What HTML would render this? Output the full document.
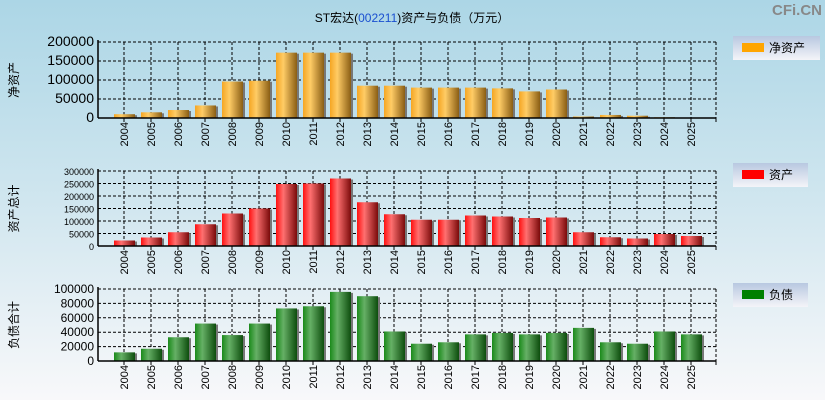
<!DOCTYPE html>
<html><head><meta charset="utf-8"><style>
body{margin:0;width:825px;height:400px;overflow:hidden;background:linear-gradient(#acd6e6,#d0e6ef 50%,#f8f8fa);font-family:"Liberation Sans","Noto Sans CJK SC",sans-serif}
svg{position:absolute;left:0;top:0}
</style></head><body>
<svg id="c" width="825" height="400">
<defs>
<linearGradient id="gO" x1="0" x2="1"><stop offset="0" stop-color="#f5a623"/><stop offset="0.35" stop-color="#ffcc66"/><stop offset="1" stop-color="#8a5e14"/></linearGradient>
<linearGradient id="gR" x1="0" x2="1"><stop offset="0" stop-color="#ff1010"/><stop offset="0.35" stop-color="#ff7070"/><stop offset="1" stop-color="#7a0a0a"/></linearGradient>
<linearGradient id="gG" x1="0" x2="1"><stop offset="0" stop-color="#1a8a1a"/><stop offset="0.35" stop-color="#66b066"/><stop offset="1" stop-color="#0d4d0d"/></linearGradient>
<linearGradient id="lg" x1="0" y1="0" x2="0" y2="1"><stop offset="0" stop-color="#b8c8e0"/><stop offset="1" stop-color="#f4f4f8"/></linearGradient>
</defs>
<text x="412" y="22" font-size="12" text-anchor="middle">ST宏达(<tspan fill="#1a4fd0">002211</tspan>)资产与负债（万元）</text>
<text x="822" y="15" font-size="15" font-weight="bold" fill="#888" text-anchor="end">CFi.CN</text>
</svg>
<script>
const years=["2004","2005","2006","2007","2008","2009","2010","2011","2012","2013","2014","2015","2016","2017","2018","2019","2020","2021","2022","2023","2024","2025"];
const netAssets=[10000,15000,21000,33000,96000,98000,172000,172000,172000,85000,85000,80000,80000,80000,78000,70000,75000,4000,8000,6000,2000,1000];
const totalAssets=[22000,34000,55000,87000,130000,150000,248000,250000,270000,175000,127000,105000,105000,122000,118000,112000,114000,55000,35000,30000,48000,40000];
const liabilities=[12000,17000,33000,52000,36000,52000,73000,76000,96000,90000,41000,24000,26000,37000,39000,37000,39000,46000,26000,24000,41000,37000];
const ticks1=[0,50000,100000,150000,200000];
const ticks2=[0,50000,100000,150000,200000,250000,300000];
const ticks3=[0,20000,40000,60000,80000,100000];
const svg=document.getElementById('c');const NS='http://www.w3.org/2000/svg';
function mk(t,a,p){const e=document.createElementNS(NS,t);for(const k in a)e.setAttribute(k,a[k]);(p||svg).appendChild(e);return e;}
function xPos(i){return 124+i*27;}
function panel(key,vals,ticks,top,bot,fill,tfs,ylab,legName,legColor,legY,legW){
 const g=mk('g',{});
 
 
 const L=98,R=716,max=ticks[ticks.length-1];
 const y=v=>bot-(v/max)*(bot-top);
 ticks.forEach(t=>{
  if(t>0){const l=mk('line',{x1:L,x2:R,y1:y(t),y2:y(t),stroke:'#000','stroke-dasharray':'3,2'},g);}
  const tx=mk('text',{x:L-4,y:y(t)+4,'font-size':tfs,'text-anchor':'end'},g);tx.textContent=t;
  
 });
 years.forEach((yr,i)=>{
  const l=mk('line',{x1:xPos(i),x2:xPos(i),y1:top,y2:bot,stroke:'#000','stroke-dasharray':'3,2'},g);
  
 });
 mk('line',{x1:R,x2:R,y1:top,y2:bot,stroke:'#000','stroke-dasharray':'3,2'},g);
 mk('line',{x1:L,x2:R,y1:top,y2:top,stroke:'#000','stroke-dasharray':'3,2'},g);
 vals.forEach((v,i)=>{
  const h=bot-y(v);
  mk('rect',{x:xPos(i)-10+2,y:y(v)+1,width:21,height:h-1,fill:'#777'},g);
  const b=mk('rect',{x:xPos(i)-10,y:y(v),width:21,height:h,fill:fill},g);
  
  
 });
 mk('line',{x1:L,x2:L,y1:top-2,y2:bot,stroke:'#000','stroke-width':1.5},g);
 mk('line',{x1:L,x2:R,y1:bot,y2:bot,stroke:'#000','stroke-width':1.5},g);
 years.forEach((yr,i)=>{
  mk('line',{x1:xPos(i),x2:xPos(i),y1:bot,y2:bot+4,stroke:'#000'},g);
  const t=mk('text',{x:0,y:0,'font-size':11,'text-anchor':'end',transform:`translate(${xPos(i)+4},${bot+4}) rotate(-90)`},g);
  t.textContent=yr;
  
 });
 mk('line',{x1:R,x2:R,y1:bot,y2:bot+4,stroke:'#000'},g);
 const yl=mk('text',{x:0,y:0,'font-size':12,'text-anchor':'middle',transform:`translate(18,${(top+bot)/2}) rotate(-90)`},g);
 yl.textContent=ylab;
 
 const lg=mk('g',{},g);
 
 mk('rect',{x:733,y:legY,width:legW,height:24,fill:'url(#lg)'},lg);
 mk('rect',{x:742,y:legY+7,width:22,height:9,fill:legColor},lg);
 const lt=mk('text',{x:769,y:legY+16,'font-size':12},lg);lt.textContent=legName;
}
panel('net-assets',netAssets,ticks1,42,118,'url(#gO)',14,'净资产','净资产','#ffa500',36,87);
panel('total-assets',totalAssets,ticks2,171,246,'url(#gR)',9,'资产总计','资产','#ff0000',163,75);
panel('liabilities',liabilities,ticks3,289,361,'url(#gG)',12,'负债合计','负债','#008000',283,75);
</script>
</body></html>
